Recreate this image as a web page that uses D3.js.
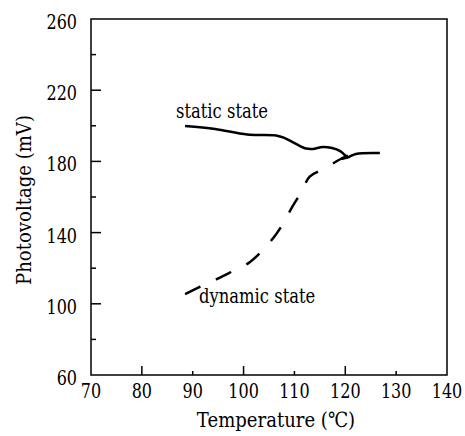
<!DOCTYPE html>
<html lang="en">
<head>
<meta charset="UTF-8">
<title>Photovoltage vs temperature</title>
<script src="https://d3js.org/d3.v7.min.js"></script>
<style>
  body { margin: 0; background: #fff; }
</style>
</head>
<body>
<script>
// data
const staticTemp  = [88.5, 94.4, 100.7, 106.4, 108.1, 110.3, 112.3, 113.6, 115.6, 117.4, 119.0, 119.9, 120.3, 119.2, 120.7, 122.1, 126.8];
const staticVolt  = [199.9, 198.2, 195.1, 194.6, 193.1, 189.8, 187.2, 187.0, 188.1, 187.5, 185.8, 183.6, 182.5, 181.3, 182.5, 184.2, 184.7];
const dynamicTemp = [88.5, 91.5, 94.7, 98.0, 100.9, 103.2, 105.8, 107.8, 109.6, 111.4, 113.0, 116.0, 119.0, 121.6];
const dynamicVolt = [105.5, 109.6, 113.8, 118.5, 122.7, 128.4, 136.8, 145.2, 154.6, 163.0, 171.4, 176.1, 181.2, 184.5];
const xTicks = [70, 80, 90, 100, 110, 120, 130, 140];
const yTicks = [60, 100, 140, 180, 220, 260];
const yMinor = [80, 120, 160, 200, 240];

const w = 465, h = 436;
const mLeft = 91, mRight = 447, mTop = 19, mBottom = 375;
// DejaVu Serif is wider than Times, so text is squeezed horizontally a bit
const squeeze = 0.8;

const x = d3.scaleLinear().domain([70, 140]).range([mLeft, mRight]);
const y = d3.scaleLinear().domain([60, 260]).range([mBottom, mTop]);

const svg = d3.select("body").append("svg")
  .attr("width", w).attr("height", h)
  .style("font-family", "'DejaVu Serif', serif");

// frame
svg.append("rect")
  .attr("x", mLeft).attr("y", mTop)
  .attr("width", mRight - mLeft).attr("height", mBottom - mTop)
  .attr("fill", "none").attr("stroke", "#000").attr("stroke-width", 1.5);

// x axis: inward ticks, long on 80/100/120
svg.append("g").selectAll("line").data(xTicks.slice(1, -1)).enter().append("line")
  .attr("x1", d => x(d)).attr("x2", d => x(d))
  .attr("y1", mBottom).attr("y2", d => mBottom - (d % 20 === 0 ? 9 : 4))
  .attr("stroke", "#000").attr("stroke-width", 1.5);
svg.append("g").selectAll("text").data(xTicks).enter().append("text")
  .attr("transform", d => "translate(" + x(d) + "," + (mBottom + 23) + ") scale(" + squeeze + ",1)")
  .attr("text-anchor", "middle").attr("font-size", 20)
  .text(d => d);

// y axis: long ticks on labelled values, short in between
svg.append("g").selectAll("line").data(yTicks.slice(1, -1)).enter().append("line")
  .attr("x1", mLeft).attr("x2", mLeft + 10)
  .attr("y1", d => y(d)).attr("y2", d => y(d))
  .attr("stroke", "#000").attr("stroke-width", 1.5);
svg.append("g").selectAll("line").data(yMinor).enter().append("line")
  .attr("x1", mLeft).attr("x2", mLeft + 5)
  .attr("y1", d => y(d)).attr("y2", d => y(d))
  .attr("stroke", "#000").attr("stroke-width", 1.5);
svg.append("g").selectAll("text").data(yTicks).enter().append("text")
  .attr("transform", d => "translate(" + (mLeft - 14) + "," + (y(d) + 10) + ") scale(" + squeeze + ",1)")
  .attr("text-anchor", "end").attr("font-size", 20)
  .text(d => d);

// axis titles
svg.append("text")
  .attr("transform", "translate(31,200) rotate(-90) scale(0.86,1)")
  .attr("text-anchor", "middle").attr("font-size", 21)
  .text("Photovoltage (mV)");
svg.append("text")
  .attr("transform", "translate(276,427) scale(0.86,1)")
  .attr("text-anchor", "middle").attr("font-size", 21)
  .text("Temperature (\u2103)");

// curves
const line = d3.line()
  .x(d => x(d[0])).y(d => y(d[1]))
  .curve(d3.curveCatmullRom);

svg.append("path")
  .datum(d3.zip(staticTemp, staticVolt))
  .attr("d", line)
  .attr("fill", "none").attr("stroke", "#000").attr("stroke-width", 2.5);

svg.append("path")
  .datum(d3.zip(dynamicTemp, dynamicVolt))
  .attr("d", line)
  .attr("fill", "none").attr("stroke", "#000").attr("stroke-width", 2.5)
  .attr("stroke-dasharray", "17,17");

// curve labels
svg.append("text")
  .attr("transform", "translate(176,118) scale(" + squeeze + ",1)")
  .attr("font-size", 20.5).text("static state");
svg.append("text")
  .attr("transform", "translate(199,303) scale(" + squeeze + ",1)")
  .attr("font-size", 20.5).text("dynamic state");
</script>
</body>
</html>
